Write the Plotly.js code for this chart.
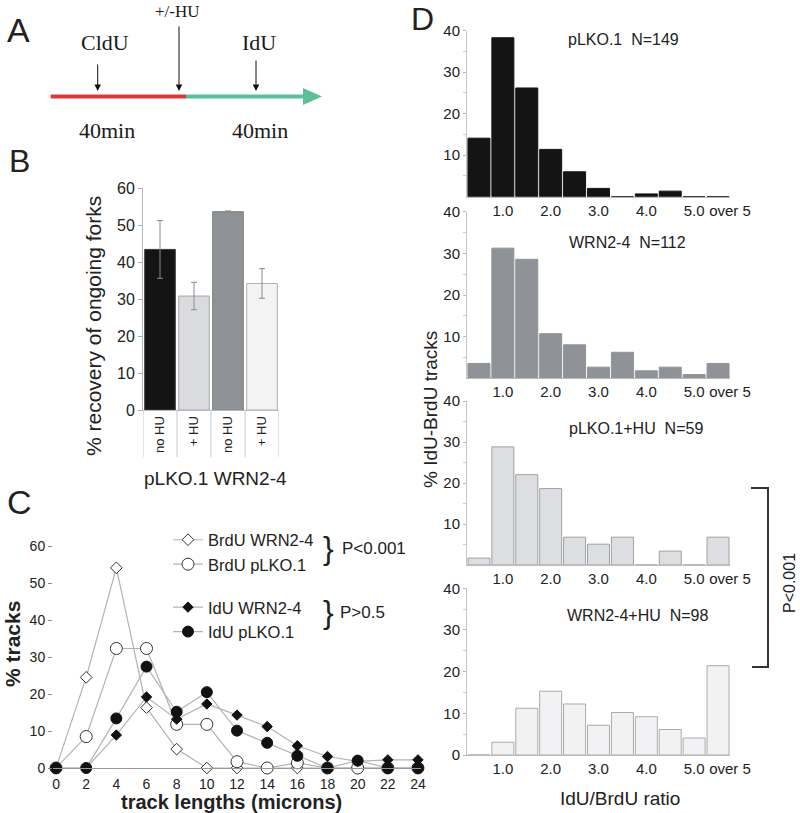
<!DOCTYPE html>
<html><head><meta charset="utf-8">
<script src="https://cdn.plot.ly/plotly-3.0.1.min.js"></script>
<style>html,body{margin:0;padding:0;background:#fff}#chart{width:800px;height:813px}</style>
</head><body><div id="chart"></div>
<script>
// ---------- Panel B data ----------
const bCategories = ['no HU', '+ HU', 'no HU', '+ HU'];
const bGroupLabel = 'pLKO.1 WRN2-4';
const bValues = [43.4, 30.8, 53.6, 34.2];
const bErrors = [7.8, 3.7, 0.2, 4.0];

// ---------- Panel C data ----------
const cLengths = [0, 2, 4, 6, 8, 10, 12, 14, 16, 18, 20, 22, 24];
const brduWRN = [0, 24.5, 54.1, 16.3, 5.1, 0, 0, 0, 0, 0, 0, 0, 0];
const brduPLKO = [0, 8.5, 32.3, 32.3, 11.8, 11.8, 1.7, 0, 1.4, 0, 0, 0, 0];
const iduWRN = [0, 0, 8.9, 19.2, 13.2, 17.3, 14.3, 11.2, 6.0, 3.1, 1.8, 2.2, 2.2];
const iduPLKO = [0, 0, 13.4, 27.4, 15.2, 20.5, 10.1, 6.8, 3.3, 0, 2.0, 0, 0];
const cNames = ['BrdU WRN2-4', 'BrdU pLKO.1', 'IdU WRN2-4', 'IdU pLKO.1'];

// ---------- Panel D data ----------
const binCenters = [0.5, 1.0, 1.5, 2.0, 2.5, 3.0, 3.5, 4.0, 4.5, 5.0, 5.5];
const dTickVals = [1, 2, 3, 4, 5, 5.75];
const dTickText = ['1.0', '2.0', '3.0', '4.0', '5.0', 'over 5'];
const histNames = ['pLKO.1', 'WRN2-4', 'pLKO.1+HU', 'WRN2-4+HU'];
const histN = [149, 112, 59, 98];
const hist1 = [14.1, 38.3, 26.2, 11.4, 6.0, 2.0, 0, 0.67, 1.34, 0, 0];
const hist2 = [3.57, 31.25, 28.57, 10.71, 8.04, 2.68, 6.25, 1.79, 2.68, 0.89, 3.57];
const hist3 = [1.69, 28.81, 22.03, 18.64, 6.78, 5.08, 6.78, 0, 3.39, 0, 6.78];
const hist4 = [0, 3.06, 11.22, 15.31, 12.24, 7.14, 10.20, 9.18, 6.12, 4.08, 21.43];

// ---------- helpers ----------
const W = 800, H = 813;
const px = v => v / W;
const py = v => 1 - v / H;
const SANS = 'Liberation Sans, Arial, sans-serif';
const SERIF = 'Liberation Serif, Times New Roman, serif';
const TXT = '#222';

const traces = [];

// Panel B bars
traces.push({
  type: 'bar', x: bCategories.map((c, i) => i), y: bValues,
  width: 0.9, xaxis: 'x', yaxis: 'y', showlegend: false,
  marker: { color: ['#141414', '#d9dbde', '#8f9296', '#f3f3f3'],
            line: { color: ['#3a3a3a', '#a8a8a8', '#7c7c7c', '#b0b0b0'], width: 1 } },
  error_y: { type: 'data', array: bErrors, visible: true, color: '#8a8a8a', thickness: 1, width: 3 }
});

// Panel C lines
const cSeries = [brduWRN, brduPLKO, iduWRN, iduPLKO];
const cMarkers = [
  { symbol: 'diamond', size: 9, color: '#ffffff', line: { color: '#333', width: 1 } },
  { symbol: 'circle', size: 12, color: '#ffffff', line: { color: '#333', width: 1 } },
  { symbol: 'diamond', size: 8, color: '#111', line: { color: '#111', width: 1 } },
  { symbol: 'circle', size: 11, color: '#111', line: { color: '#111', width: 1 } }
];
const cGroups = ['brdu', 'brdu', 'idu', 'idu'];
cSeries.forEach((s, i) => {
  traces.push({
    type: 'scatter', mode: 'lines+markers', x: cLengths, y: s, name: cNames[i],
    legendgroup: cGroups[i], xaxis: 'x2', yaxis: 'y2', cliponaxis: false,
    line: { color: '#b3b3b3', width: 1.2 }, marker: cMarkers[i]
  });
});

// Panel D histograms
const hists = [hist1, hist2, hist3, hist4];
const hFill = ['#141414', '#8f9397', '#dcdee1', '#f2f2f4'];
const hLine = ['#141414', '#8f9397', '#a0a0a0', '#ababab'];
hists.forEach((h, i) => {
  traces.push({
    type: 'bar', x: binCenters, y: h, width: 0.46, showlegend: false,
    xaxis: 'x' + (i + 3), yaxis: 'y' + (i + 3),
    marker: { color: hFill[i], line: { color: hLine[i], width: 1 } }
  });
});

const layout = {
  width: W, height: H, margin: { l: 0, r: 0, t: 0, b: 0 },
  paper_bgcolor: '#fff', plot_bgcolor: 'rgba(0,0,0,0)',
  font: { family: SANS, color: TXT },
  showlegend: true,
  legend: { x: px(168), y: py(522.5), xanchor: 'left', yanchor: 'top',
            font: { size: 16.5, family: SANS, color: TXT }, tracegroupgap: 18.5,
            traceorder: 'grouped', bgcolor: 'rgba(0,0,0,0)', itemwidth: 30 },
  // Panel B axes
  xaxis: { domain: [px(143), px(279)], range: [-0.5, 3.5], anchor: 'y',
           tickvals: [0, 1, 2, 3], ticktext: bCategories, tickangle: -90,
           tickfont: { size: 13, family: SANS, color: TXT }, showline: true,
           linecolor: '#bbb', ticks: '', showgrid: false, zeroline: false },
  yaxis: { domain: [py(410), py(188)], range: [0, 60], anchor: 'x', dtick: 10,
           ticks: 'outside', ticklen: 4, tickcolor: '#aaa', showline: true,
           linecolor: '#bbb', tickfont: { size: 16, family: SANS, color: TXT },
           showgrid: false, zeroline: false },
  // Panel C axes
  xaxis2: { domain: [px(53), px(421)], range: [-0.2, 24.2], anchor: 'y2',
            tickvals: cLengths, showline: true, linecolor: '#999', ticks: 'outside',
            ticklen: 3, tickcolor: 'rgba(0,0,0,0)', tickfont: { size: 14, family: SANS, color: TXT },
            showgrid: false, zeroline: false },
  yaxis2: { domain: [py(768), py(546)], range: [0, 60], anchor: 'x2', dtick: 10,
            ticks: 'outside', ticklen: 4, tickcolor: '#888', showline: false,
            tickfont: { size: 14, family: SANS, color: TXT }, showgrid: false, zeroline: false },
  shapes: [], annotations: []
};

const hDomains = [[196.7, 30.7], [378.3, 211.7], [565, 401], [755, 588.3]];
for (let i = 0; i < 4; i++) {
  const n = i + 3;
  layout['xaxis' + n] = { domain: [px(467), px(730)], range: [0.25, 5.75], anchor: 'y' + n,
    tickvals: dTickVals, ticktext: dTickText, showline: true, linecolor: '#bbb', ticks: '',
    tickfont: { size: 15, family: SANS, color: TXT }, showgrid: false, zeroline: false };
  layout['yaxis' + n] = { domain: [py(hDomains[i][0]), py(hDomains[i][1])], range: [0, 40], anchor: 'x' + n,
    tickvals: i === 3 ? [0, 10, 20, 30, 40] : [10, 20, 30, 40], ticks: 'outside', ticklen: 3,
    tickcolor: '#bbb', showline: true, linecolor: '#c4c4c4',
    minor: { tickvals: [5, 15, 25, 35], ticks: 'outside', ticklen: 3, tickcolor: '#ccc' },
    tickfont: { size: 15, family: SANS, color: TXT }, showgrid: false, zeroline: false };
}

const ann = layout.annotations, shp = layout.shapes;
function T(text, x, y, size, opts) {
  ann.push(Object.assign({ text: text, x: px(x), y: py(y), xref: 'paper', yref: 'paper',
    xanchor: 'center', yanchor: 'middle', showarrow: false,
    font: { size: size, family: SANS, color: TXT } }, opts || {}));
}

// Panel letters
T('A', 18, 30, 34); T('B', 19, 161, 32); T('C', 19, 502, 34); T('D', 422, 19, 32);

// Panel A
shp.push({ type: 'line', xref: 'paper', yref: 'paper', x0: px(50.7), x1: px(186), y0: py(96.5), y1: py(96.5), line: { color: '#d93a36', width: 4 } });
shp.push({ type: 'line', xref: 'paper', yref: 'paper', x0: px(186), x1: px(305), y0: py(96.5), y1: py(96.5), line: { color: '#5bbf97', width: 4 } });
shp.push({ type: 'path', xref: 'paper', yref: 'paper',
  path: `M ${px(303)} ${py(88)} L ${px(322)} ${py(96.5)} L ${px(303)} ${py(105)} Z`,
  fillcolor: '#5bbf97', line: { width: 0 } });
[[97.7, 28], [179, 66], [256, 32]].forEach(a => {
  ann.push({ text: '', x: px(a[0]), y: py(91), xref: 'paper', yref: 'paper', ax: 0, ay: -a[1],
    showarrow: true, arrowhead: 2, arrowsize: 1.3, arrowwidth: 1, arrowcolor: '#111' });
});
const serif = s => ({ font: { size: s, family: SERIF, color: '#1a1a1a' } });
T('CldU', 105, 43, 22, serif(22));
T('+/-HU', 177, 11, 17, serif(17));
T('IdU', 259, 43, 22, serif(22));
T('40min', 107, 130, 22, serif(22));
T('40min', 260, 130, 22, serif(22));

// Panel B extras
T('% recovery of ongoing forks', 93, 326, 21, { textangle: -90 });
T(bGroupLabel, 215, 478, 19);
[-0.5, 0.5, 1.5, 2.5, 3.5].forEach(b => {
  shp.push({ type: 'line', xref: 'x', yref: 'paper', x0: b, x1: b, y0: py(410), y1: py(457), line: { color: '#c8c8c8', width: 1 } });
});

// Panel C extras
T('track lengths (microns)', 232, 802, 20, { font: { size: 20, family: SANS, color: TXT, weight: 'bold' } });
T('<b>% tracks</b>', 12, 644, 21, { textangle: -90 });
T('}', 328, 548, 32);
T('}', 328, 612, 32);
T('P<0.001', 340, 548, 17, { xanchor: 'left' });
T('P>0.5', 338, 612, 17, { xanchor: 'left' });

// Panel D extras
const hTitlePos = [[623, 39], [627, 243], [636, 428], [637, 615]];
histNames.forEach((nm, i) => {
  T(nm + '\u00a0\u00a0N=' + histN[i], hTitlePos[i][0], hTitlePos[i][1], 16);
});
T('IdU/BrdU ratio', 620, 798, 19);
T('% IdU-BrdU tracks', 430, 410, 19, { textangle: -90 });
shp.push({ type: 'path', xref: 'paper', yref: 'paper',
  path: `M ${px(751)} ${py(488)} L ${px(768)} ${py(488)} L ${px(768)} ${py(667)} L ${px(752)} ${py(667)}`,
  line: { color: '#333', width: 2 } });
T('P<0.001', 789, 583, 16, { textangle: -90, borderpad: 0 });

Plotly.newPlot('chart', traces, layout, { displayModeBar: false, staticPlot: true });
</script>
</body></html>
